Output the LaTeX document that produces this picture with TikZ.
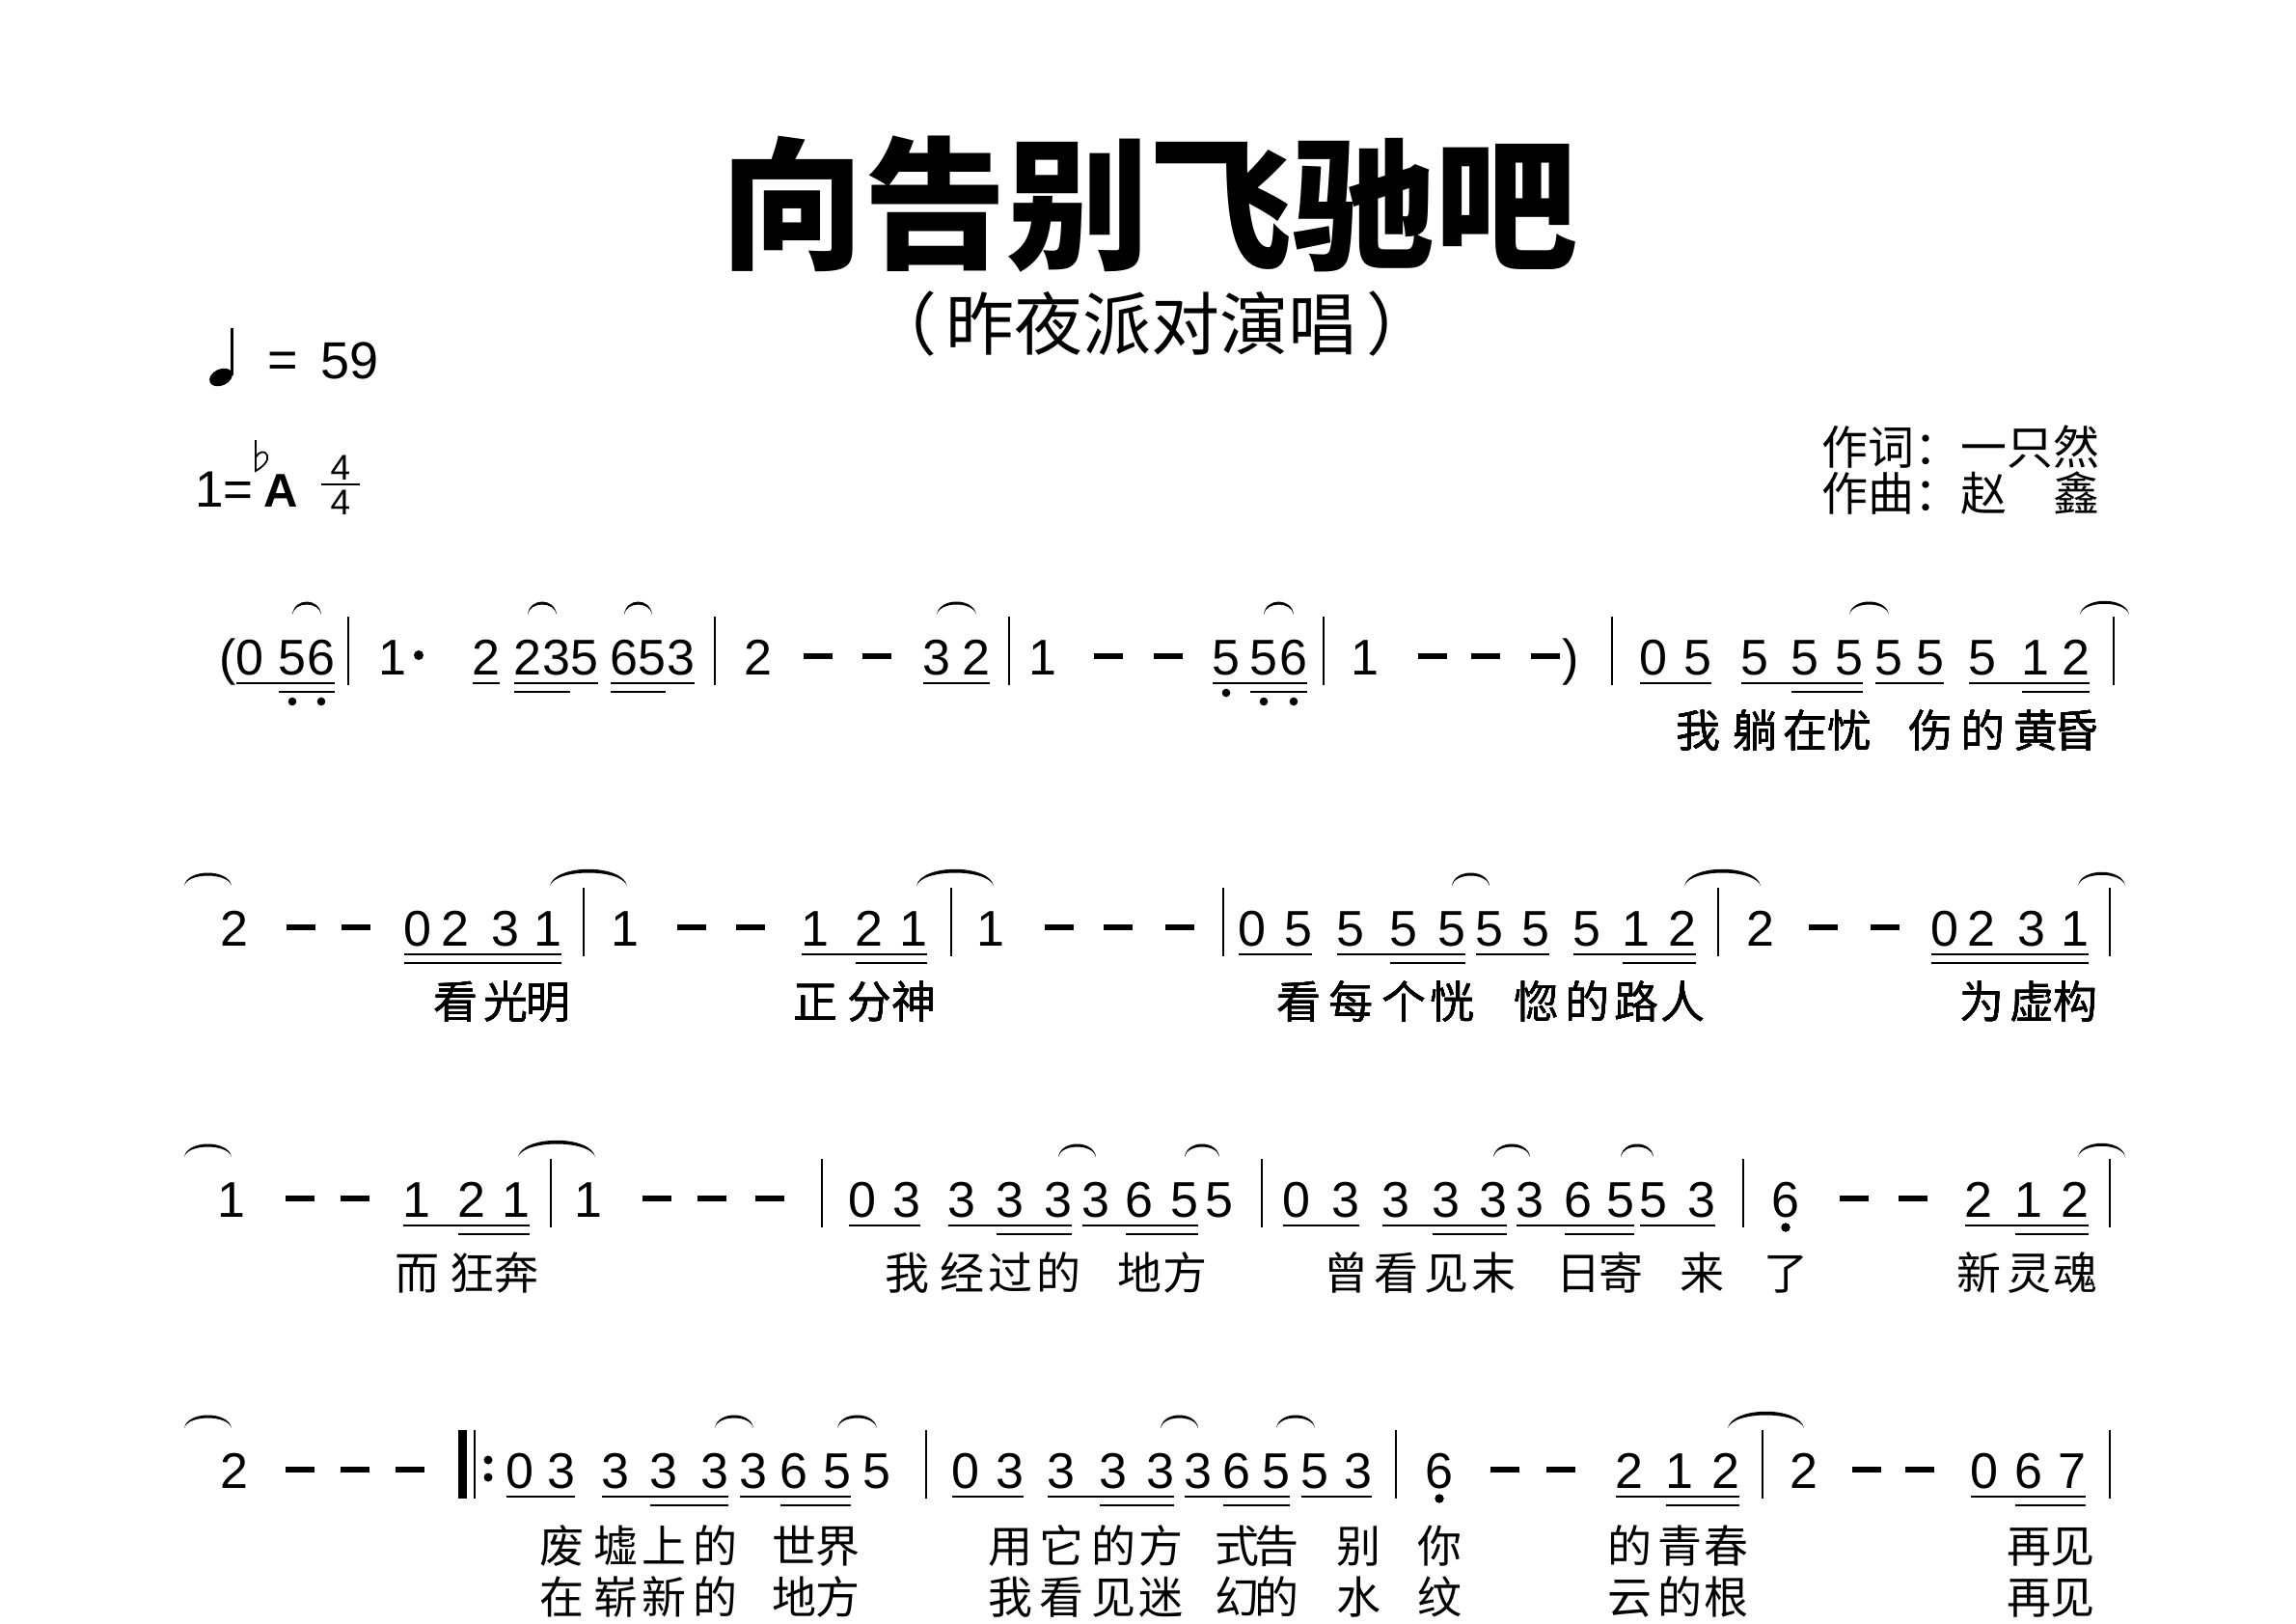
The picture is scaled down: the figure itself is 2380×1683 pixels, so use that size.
\documentclass[tikz,border=0pt]{standalone}
\usepackage{fontspec}
\setmainfont{Liberation Sans}
\newfontfamily\cjk{Noto Sans CJK SC}
\newcommand\digfont{\fontsize{52}{52}\selectfont}
\newcommand\mslur[5]{\fill ({#1},{#3-62}) .. controls ({#1+0.06*(#2-#1)},{#3-62-#4}) and ({#2-0.06*(#2-#1)},{#3-62-#4}) .. ({#2},{#3-62}) .. controls ({#2-0.08*(#2-#1)},{#3-62-#5}) and ({#1+0.08*(#2-#1)},{#3-62-#5}) .. cycle;}
\tikzset{
  dig/.style={font=\digfont, anchor=base, inner sep=0pt},
  lyr/.style={font=\cjk\fontsize{46}{46}\selectfont, anchor=base, inner sep=0pt},
  uline/.style={line width=2.6pt},
  barl/.style={line width=2.2pt},
  dashmark/.style={line width=5.5pt},
}
\begin{document}
\begin{tikzpicture}[x=1pt,y=-1pt]
\fill[white] (0,0) rectangle (2380,1683);
\useasboundingbox (0,0) rectangle (2380,1683);

% ---------- header ----------
\node[anchor=base, inner sep=0pt, font=\cjk\bfseries\fontsize{148}{148}\selectfont] (title) at (1191,267) {向告别飞驰吧};
\node[anchor=base, inner sep=0pt, font=\cjk\fontsize{71}{71}\selectfont] (subtitle) at (1194,362) {（\hspace{10pt}昨夜派对演唱\hspace{10pt}）};
\node[anchor=base west, inner sep=0pt, font=\cjk\fontsize{48}{48}\selectfont] (lyricist) at (1888,481) {作词：一只然};
\node[anchor=base west, inner sep=0pt, font=\cjk\fontsize{48}{48}\selectfont] (composer) at (1888,529) {作曲：赵　鑫};

% tempo
\fill[rotate around={25:(229,391)}] (229,391) ellipse (12.5 and 8.5);
\draw[line width=2.4pt] (240.5,389) -- (240.5,340);
\node[anchor=base, inner sep=0pt, font=\fontsize{54}{54}\selectfont] (eq) at (293,391) {=};
\node[anchor=base, inner sep=0pt, font=\fontsize{54}{54}\selectfont] (bpm) at (363,392) {59};

% key and metre
\node[anchor=base west, inner sep=0pt, font=\fontsize{53}{53}\selectfont] (key) at (202,525) {1=};
\draw[line width=1.8pt] (265,456) -- (265,488) .. controls (272,484) and (279,478) .. (277,472) .. controls (275,466) and (268,468) .. (265,474);
\node[anchor=base, inner sep=0pt, font=\bfseries\fontsize{49}{49}\selectfont] (keyA) at (291.5,525) {A};
\node[anchor=base, inner sep=0pt, font=\fontsize{37}{37}\selectfont] (mtop) at (353,497) {4};
\node[anchor=base, inner sep=0pt, font=\fontsize{37}{37}\selectfont] (mbot) at (353,533) {4};
\draw[line width=2.5pt] (333,502) -- (373,502);

% ---------- row 1 (baseline 699) ----------
\node[dig] (lparen) at (236,699) {(};
\node[dig] (rparen) at (1628,699) {)};
\foreach \x/\n in {259/0,303/5,333/6,407/1,504/2,547/2,577/3,606/5,647/6,676/5,706/3,786/2,971/3,1012/2,1081/1,1271/5,1310/5,1341/6,1415/1,1714/0,1760/5,1819/5,1871/5,1917/5,1958/5,2001/5,2055/5,2110/1,2152/2}
  \node[dig] (a\x) at (\x,699) {\n};
\foreach \p/\q in {245/347,490/518,533/620,633/720,957/1026,1257/1355,1700/1774,1805/1931,1944/2015,2041/2166}
  \draw[uline] (\p,708) -- (\q,708);
\foreach \p/\q in {289/347,533/591,633/690,1296/1355,1857/1931,2096/2166}
  \draw[uline] (\p,717) -- (\q,717);
\foreach \x/\y in {303/727,333/727,1271/718,1310/727,1341/727}
  \fill (\x,\y) circle (4.3);
\fill (434,679) circle (5);
\foreach \x in {361,741,1046,1372,1671,2191}
  \draw[barl] (\x,639) -- (\x,710);
\foreach \x in {848,909,1149,1211,1485,1540,1602}
  \draw[dashmark] ({\x-15},680) -- ({\x+15},680);
\foreach \p/\q/\o/\i in {303/333/18/14,547/577/18/14,647/676/18/14,971/1012/18/14,1310/1341/18/14,1917/1958/18/14,2156/2207/19/15}
  \mslur{\p}{\q}{699}{\o}{\i}
\foreach \x/\w in {1760/我,1819/躺,1871/在,1917/忧,2001/伤,2055/的,2110/黄,2152/昏}
  \node[lyr] (la\x) at (\x,774) {\w};

% ---------- row 2 (baseline 980) ----------
\foreach \x/\n in {243/2,433/0,472/2,524/3,568/1,648/1,845/1,901/2,947/1,1027/1,1298/0,1346/5,1400/5,1455/5,1505/5,1544/5,1592/5,1645/5,1696/1,1744/2,1825/2,2016/0,2054/2,2106/3,2151/1}
  \node[dig] (b\x) at (\x,980) {\n};
\foreach \p/\q in {419/582,831/961,1284/1360,1386/1519,1530/1606,1631/1758,2002/2165}
  \draw[uline] (\p,989) -- (\q,989);
\foreach \p/\q in {419/582,887/961,1441/1519,1682/1758,2002/2165}
  \draw[uline] (\p,998) -- (\q,998);
\foreach \x in {605,986,1268,1781,2187}
  \draw[barl] (\x,920) -- (\x,991);
\foreach \x in {312,369,717,778,1098,1159,1223,1890,1954}
  \draw[dashmark] ({\x-15},961) -- ({\x+15},961);
\foreach \p/\q/\o/\i in {191/240/18/14,570/650/23/18,950/1030/23/18,1505/1544/18/14,1746/1825/23/18,2154/2203/19/15}
  \mslur{\p}{\q}{980}{\o}{\i}
\foreach \x/\w in {472/看,524/光,568/明,845/正,901/分,947/神,1346/看,1400/每,1455/个,1505/恍,1592/惚,1645/的,1696/路,1744/人,2054/为,2106/虚,2151/构}
  \node[lyr] (lb\x) at (\x,1055) {\w};

% ---------- row 3 (baseline 1261) ----------
\foreach \x/\n in {240/1,432/1,489/2,535/1,610/1,894/0,940/3,997/3,1047/3,1097/3,1136/3,1181/6,1228/5,1264/5,1344/0,1395/3,1447/3,1499/3,1548/3,1586/3,1636/6,1680/5,1714/5,1764/3,1851/6,2051/2,2103/1,2151/2}
  \node[dig] (c\x) at (\x,1261) {\n};
\foreach \p/\q in {418/549,880/954,983/1111,1122/1242,1330/1409,1433/1562,1572/1694,1700/1778,2037/2165}
  \draw[uline] (\p,1270) -- (\q,1270);
\foreach \p/\q in {475/549,1033/1111,1167/1242,1485/1562,1622/1694,2089/2165}
  \draw[uline] (\p,1279) -- (\q,1279);
\foreach \x in {571,852,1308,1807,2187}
  \draw[barl] (\x,1201) -- (\x,1272);
\foreach \x in {311,368,681,738,798,1922,1983}
  \draw[dashmark] ({\x-15},1242) -- ({\x+15},1242);
\foreach \p/\q/\o/\i in {191/240/18/14,537/617/23/18,1097/1136/18/14,1228/1264/18/14,1548/1586/18/14,1680/1714/18/14,2154/2203/19/15}
  \mslur{\p}{\q}{1261}{\o}{\i}
\fill (1851,1272) circle (4.3);
\foreach \x/\w in {432/而,489/狂,535/奔,940/我,997/经,1047/过,1097/的,1181/地,1228/方,1395/曾,1447/看,1499/见,1548/末,1636/日,1680/寄,1764/来,1851/了,2051/新,2103/灵,2151/魂}
  \node[lyr] (lc\x) at (\x,1336) {\w};

% ---------- row 4 (baseline 1542) ----------
\foreach \x/\n in {243/2,539/0,582/3,638/3,688/3,741/3,781/3,823/6,868/5,909/5,1001/0,1047/3,1100/3,1154/3,1203/3,1242/3,1282/6,1323/5,1363/5,1408/3,1492/6,1689/2,1741/1,1789/2,1870/2,2057/0,2103/6,2148/7}
  \node[dig] (d\x) at (\x,1542) {\n};
\foreach \p/\q in {525/596,624/755,767/882,987/1061,1086/1217,1228/1337,1349/1422,1675/1803,2043/2162}
  \draw[uline] (\p,1551) -- (\q,1551);
\foreach \p/\q in {674/755,809/882,1140/1217,1268/1337,1727/1803,2089/2162}
  \draw[uline] (\p,1560) -- (\q,1560);
\foreach \x in {960,1447,1827,2187}
  \draw[barl] (\x,1482) -- (\x,1553);
\fill (475,1482) rectangle (484,1553);
\draw[barl] (492,1482) -- (492,1553);
\fill (506,1513) circle (4.5);
\fill (506,1531) circle (4.5);
\foreach \x in {311,368,425,1560,1618,1935,1990}
  \draw[dashmark] ({\x-15},1523) -- ({\x+15},1523);
\foreach \p/\q/\o/\i in {191/240/18/14,741/781/18/14,868/909/18/14,1203/1242/18/14,1323/1363/18/14,1791/1870/23/18}
  \mslur{\p}{\q}{1542}{\o}{\i}
\fill (1492,1553) circle (4.3);
\foreach \x/\w in {582/废,638/墟,688/上,741/的,823/世,868/界,1047/用,1100/它,1154/的,1203/方,1282/式,1323/告,1408/别,1492/你,1689/的,1741/青,1789/春,2103/再,2148/见}
  \node[lyr] (le\x) at (\x,1619) {\w};
\foreach \x/\w in {582/在,638/崭,688/新,741/的,823/地,868/方,1047/我,1100/看,1154/见,1203/迷,1282/幻,1323/的,1408/水,1492/纹,1689/云,1741/的,1789/根,2103/再,2148/见}
  \node[lyr] (lf\x) at (\x,1672) {\w};
\end{tikzpicture}
\end{document}
